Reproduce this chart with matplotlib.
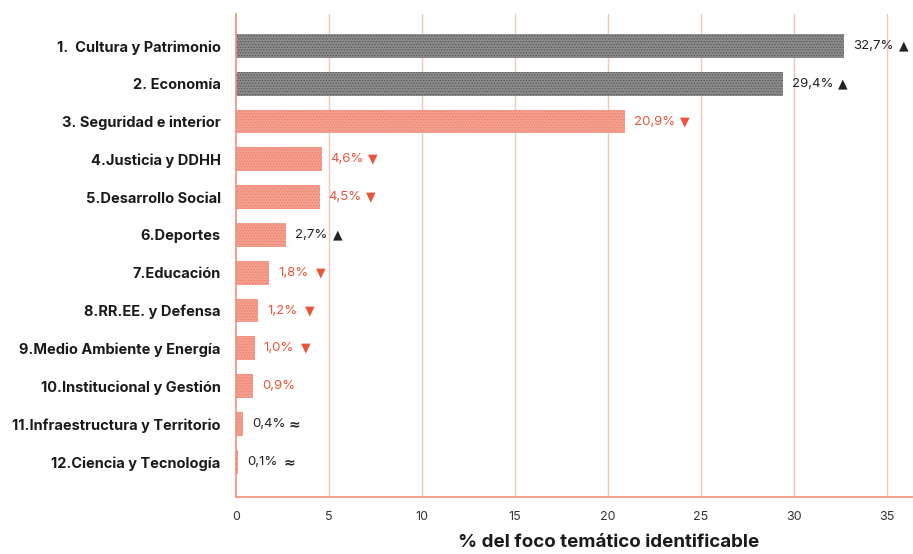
import numpy as np
import matplotlib.pyplot as plt

# datos
temas = ["1.  Cultura y Patrimonio", "2. Economía", "3. Seguridad e interior",
         "4.Justicia y DDHH", "5.Desarrollo Social", "6.Deportes", "7.Educación",
         "8.RR.EE. y Defensa", "9.Medio Ambiente y Energía",
         "10.Institucional y Gestión", "11.Infraestructura y Territorio",
         "12.Ciencia y Tecnología"]
valores = [32.7, 29.4, 20.9, 4.6, 4.5, 2.7, 1.8, 1.2, 1.0, 0.9, 0.4, 0.1]
etiquetas = ["32,7%", "29,4%", "20,9%", "4,6%", "4,5%", "2,7%", "1,8%",
             "1,2%", "1,0%", "0,9%", "0,4%", "0,1%"]
tendencia = ["up", "up", "down", "down", "down", "up", "down", "down", "down",
             "", "eq", "eq"]
grupo = ["gris", "gris"] + ["rojo"] * 10

ROJO = "#e9553b"
GRIS = "#8c8c8c"
SALMON = "#f4a090"
simbolo = {"up": "\u25B2", "down": "\u25BC", "eq": "\u2248", "": ""}

plt.rcParams['font.family'] = ['Inter', 'DejaVu Sans']
plt.rcParams['hatch.linewidth'] = 0.6

fig = plt.figure(figsize=(9.13, 5.54), dpi=100)
ax = fig.add_axes([0.2585, 0.103, 0.7415, 0.872])

y = np.arange(len(temas))
for i in range(len(temas)):
    if grupo[i] == "gris":
        ax.barh(y[i], valores[i], height=0.63, color=GRIS, hatch="......",
                edgecolor="#555555", linewidth=0, zorder=2)
    else:
        ax.barh(y[i], valores[i], height=0.63, color=SALMON, hatch="......",
                edgecolor="#f07d68", linewidth=0, zorder=2)

    col = ROJO if tendencia[i] in ("down", "") else "#222222"
    ax.annotate(etiquetas[i], (valores[i], y[i]), xytext=(6.5, 0),
                textcoords="offset points", ha="left", va="center",
                fontsize=9.5, color=col)
    if simbolo[tendencia[i]]:
        off = 37 if len(etiquetas[i]) == 4 else 43
        ax.annotate(simbolo[tendencia[i]], (valores[i], y[i]), xytext=(off, 0),
                    textcoords="offset points", ha="center", va="center",
                    fontsize=9 if tendencia[i] != "eq" else 10,
                    color=col, fontweight="bold",
                    family=['DejaVu Sans'])

ax.set_xlim(0, 36.4)
ax.set_ylim(11.93, -0.85)
ax.set_yticks(y)
ax.set_yticklabels(temas, fontsize=10.5, fontweight="bold", color="#1a1a1a")
ax.set_xticks(np.arange(0, 40, 5))
ax.tick_params(axis="x", length=0, pad=10, labelsize=9, labelcolor="#333333")
ax.tick_params(axis="y", length=0, pad=11)

for xv in range(5, 40, 5):
    ax.axvline(xv, color="#f2c6bc", linewidth=1, zorder=1)

for s in ["top", "right"]:
    ax.spines[s].set_visible(False)
for s in ["left", "bottom"]:
    ax.spines[s].set_color("#f0907a")
    ax.spines[s].set_linewidth(1.2)

ax.set_xlabel("% del foco temático identificable", fontsize=13.5,
              fontweight="bold", color="#1a1a1a")
ax.xaxis.set_label_coords(0.551, -0.077)

fig.savefig("out.png", dpi=100)
